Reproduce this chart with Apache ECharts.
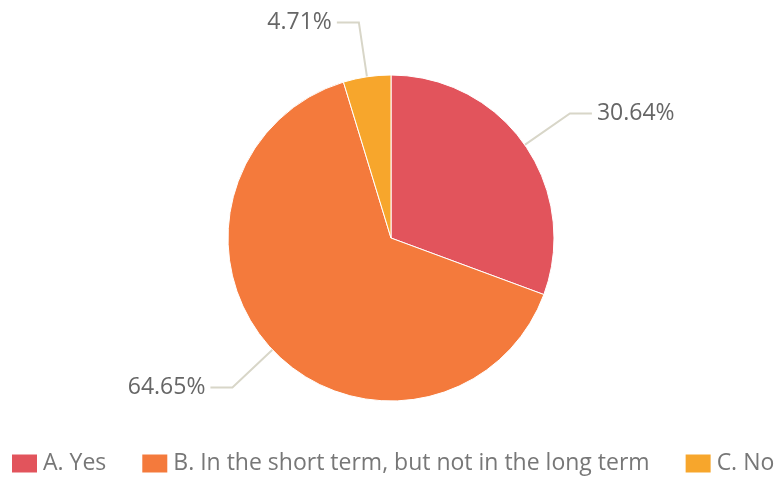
<!DOCTYPE html>
<html>
<head>
<meta charset="utf-8">
<script src="https://cdn.jsdelivr.net/npm/echarts@6/dist/echarts.min.js"></script>
<style>html,body{margin:0;padding:0;background:#fff}#c{width:775px;height:480px}</style>
</head>
<body>
<div id="c"></div>
<script>
const categories = ["A. Yes", "B. In the short term, but not in the long term", "C. No"];
const values = [30.64, 64.65, 4.71];
const colors = ["#e2545c", "#f47a3c", "#f7a62c"];

const chart = echarts.init(document.getElementById('c'));
chart.setOption({
  animation: false,
  color: colors,
  legend: {
    bottom: 0,
    left: 5,
    width: 900,
    padding: [5, 5],
    itemWidth: 27,
    itemHeight: 20,
    itemGap: 34,
    icon: 'rect',
    textStyle: { fontFamily: 'Open Sans', fontSize: 23, color: '#777' },
    data: categories
  },
  series: [{
    type: 'pie',
    center: [391, 238],
    radius: [0, 163],
    startAngle: 90,
    clockwise: true,
    itemStyle: { borderColor: '#fff', borderWidth: 1 },
    label: {
      formatter: p => p.value.toFixed(2) + '%',
      fontFamily: 'Open Sans',
      fontSize: 23,
      color: '#666',
      padding: [12, 0, 0, 0]
    },
    labelLine: { length: 55, length2: 22, lineStyle: { color: '#d8d6c8', width: 2 } },
    data: categories.map((c, i) => ({ name: c, value: values[i] }))
  }]
});
</script>
</body>
</html>
